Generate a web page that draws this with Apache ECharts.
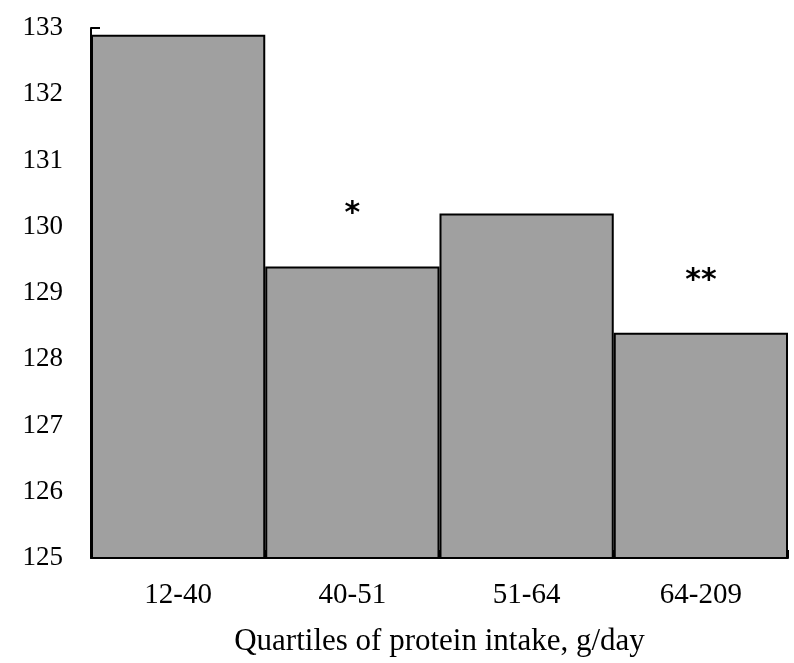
<!DOCTYPE html>
<html><head><meta charset="utf-8">
<script src="https://cdn.jsdelivr.net/npm/echarts@6/dist/echarts.min.js"></script>
<style>html,body{margin:0;padding:0;background:#fff}#c{width:794px;height:663px}</style>
</head><body><div id="c"></div>
<script>
const categories = ['12-40', '40-51', '51-64', '64-209'];
const values = [132.9, 129.4, 130.2, 128.4];
const annotations = ['', '*', '', '**'];
const yTicks = [125, 126, 127, 128, 129, 130, 131, 132, 133];

const chart = echarts.init(document.getElementById('c'));
const serif = 'Liberation Serif';
chart.setOption({
  animation: false,
  grid: { left: 91, right: 6, top: 28, bottom: 105, containLabel: false },
  xAxis: {
    type: 'category',
    data: categories,
    name: 'Quartiles of protein intake, g/day',
    nameLocation: 'middle',
    nameGap: 68,
    nameTextStyle: { fontFamily: serif, fontSize: 31, color: '#000' },
    axisLine: { lineStyle: { color: '#000', width: 2 } },
    axisTick: { show: true, inside: true, length: 8, lineStyle: { color: '#000', width: 2 } },
    axisLabel: { fontFamily: serif, fontSize: 29, color: '#000', margin: 23 }
  },
  yAxis: {
    type: 'value',
    min: yTicks[0],
    max: yTicks[yTicks.length - 1],
    interval: 1,
    axisLine: { show: true, lineStyle: { color: '#000', width: 2 } },
    axisTick: { show: true, inside: true, length: 9, lineStyle: { color: '#000', width: 2 } },
    splitLine: { show: false },
    axisLabel: { fontFamily: serif, fontSize: 27, color: '#000', margin: 28 }
  },
  series: [{
    type: 'bar',
    data: values,
    barCategoryGap: '0%',
    itemStyle: { color: '#a0a0a0', borderColor: '#000', borderWidth: 2 },
    label: {
      show: true,
      position: 'top',
      distance: 37,
      formatter: p => annotations[p.dataIndex],
      fontFamily: 'DejaVu Sans',
      fontWeight: 'bold',
      fontSize: 30,
      color: '#000'
    }
  }]
});
</script></body></html>
